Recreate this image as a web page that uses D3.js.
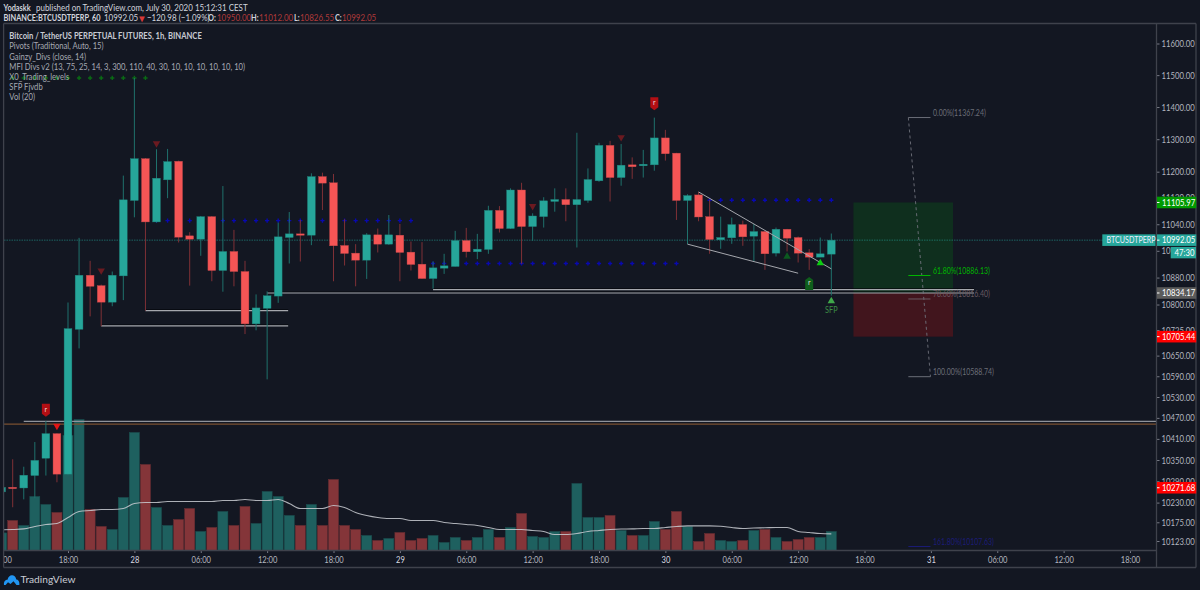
<!DOCTYPE html>
<html><head><meta charset="utf-8">
<style>html,body{margin:0;padding:0;background:#131722;overflow:hidden}svg{display:block}
text{font-family:Lato,"Noto Sans",sans-serif}</style>
<script src="https://cdn.jsdelivr.net/npm/d3@7/dist/d3.min.js"></script>
</head><body><svg id="c" width="1200" height="590"></svg>
<script>
// Hourly bars, index 0 = 27 Jul 12:00
const opens=[10260,10273,10271,10306,10355,10425,10310,10727,10887,10856,10807,10885,11112,11240,11047,11175,11232,11005,10995,11063,10901,10958,10898,10743,10789,10825,11000,11011,11007,11185,11166,10976,10953,10932,11008,10980,11007,10956,10920,10877,10908,10913,10991,10957,10964,11082,11027,11144,11033,11063,11109,11115,11099,11112,11172,11281,11182,11221,11218,11221,11304,11257,11112,11129,11063,10993,10999,11039,11004,11018,10953,11025,11000,10954,10941,10950];
const highs=[10280,10352,10331,10401,10461,10426,10806,10999,10930,10859,10898,11188,11491,11242,11269,11270,11234,11016,11065,11065,11156,11023,10930,10830,10839,11045,11077,11053,11195,11197,11193,11055,10980,11013,11027,11068,11041,10988,10986,10928,10951,11020,11029,11011,11096,11095,11149,11166,11073,11122,11149,11149,11320,11210,11289,11295,11285,11244,11267,11367,11329,11258,11131,11138,11114,11063,11060,11051,11041,11019,11030,11026,11003,10965,11000,11012];
const lows=[10252,10217,10239,10242,10306,10287,10307,10671,10765,10736,10795,10813,11061,10782,11045,11119,10985,10856,10945,10869,10838,10854,10713,10724,10581,10805,10922,10928,10977,11083,10869,10916,10854,10876,10955,10978,10869,10901,10876,10847,10891,10913,10940,10935,10951,11015,11026,10921,10990,11030,11078,11049,10970,11105,11169,11109,11157,11178,11182,11203,11234,11053,10980,11049,10951,10966,10981,10975,10928,10903,10943,10958,10925,10903,10941,10826.55];
const closes=[10273,10269,10307,10349,10425,10310,10729,10887,10854,10807,10887,11114,11240,11047,11180,11231,11001,10995,11063,10901,10958,10898,10743,10790,10826,11002,11011,11007,11185,11165,10975,10952,10932,11008,10980,11008,10955,10919,10877,10909,10915,10991,10957,10965,11082,11027,11144,11033,11065,11111,11115,11099,11115,11176,11281,11182,11220,11215,11223,11304,11255,11112,11127,11062,10994,11000,11039,11002,11018,10951,11025,10998,10953,10941,10951,10992.05];
const volumes=[17.6,30,25,54,46,38,115,131,41,24,21,53,118,86,43,25,31,42,19,23,39,25,44,27,59,54,35,25,46,25,71,25,21,15,10,12,18,10,12,15,8,13,10,13,21,13,23,37,14,13,19,19,67,33,33,35,20,15,15,29,21,39,24,9,17,10,9,10,20,21,13,9,11,13,13,19];
const volumeMA=[20.8,21,21.6,24,26,27,33,39,40,41,41,42,47,48,48,49,49,49,49,49,50,50,51,50,50,51,47,42,42,42,45,43,38,35,33,32,32,30,30,30,28,27,26,25,23,21,21,21,20,19,16,16,17,19,20,21,21.5,21.6,22,22,23,24,24.6,24.6,24.6,24.3,23,22,22.5,22.7,23,23,19,18,17,16.6];
const priceTicks=[11600,11500,11400,11300,11200,11120,11040,10960,10880,10800,10725,10650,10590,10530,10470,10410,10350,10290,10230,10175,10123];
const timeTickIdx=[0,6,12,18,24,30,36,42,48,54,60,66,72,78,84,90,96,102];
const timeTickLabels=["12:00","18:00","28","06:00","12:00","18:00","29","06:00","12:00","18:00","30","06:00","12:00","18:00","31","06:00","12:00","18:00"];
const legendLines=["Bitcoin / TetherUS PERPETUAL FUTURES, 1h, BINANCE","Pivots (Traditional, Auto, 15)","Gainzy_Divs (close, 14)","MFI Divs v2 (13, 75, 25, 14, 3, 300, 110, 40, 30, 10, 10, 10, 10, 10, 10)","X0_Trading_levels","SFP Fjvdb","Vol (20)"];
// Pivot-style + marks: [first bar, last bar, price]
const pivotRuns=[[14,37,11051],[39,61,10922],[64,75,11113]];
const greenPlusBars=[1,2,3,4,5,6,7,8,9,10,11,12,13], greenPlusPrice=11491;
// Horizontal levels: [from bar, to bar, price]
const levels=[[13,25.9,10782],[9,25.9,10737],[24,87.9,10834.17],[39,87.9,10844]];
const farLevels=[[2,110,10460,"#8f939b"],[0,110,10452,"#7a5130"]];
const wedge=[[[63,11138],[75,10906]],[[62,10980],[72,10893]]];
const boxBars=[77,86], boxTop=11105.97, boxMid=10834.17, boxBottom=10705.44;
const fibs=[["0.00%(11367.24)",11367.24,"#6b6e78"],["61.80%(10886.13)",10886.13,"#00b400"],["78.60%(10816.40)",10816.40,"#6a5a62"],["100.00%(10588.74)",10588.74,"#6b6e78"],["161.80%(10107.63)",10107.63,"#1c1c78"]];
const fibBars=[82,84];
const downMarks=[[9,10901,"#6b1a20"],[14,11287,"#6b1a20"],[56,11306,"#6b1a20"],[48,11095,"#6b1a20"],[5,10447,"#e01515"]];
const upMarks=[[71,10943,"#0c5a20"],[74,10923,"#0ccc10"],[75,10810,"#3fa84a"]];
const flags=[[4,10492,"#b30f14",1],[59,11410,"#b30f14",1],[73,10862,"#0f5f1c",-1]];
const badges=[[11105.97,"11105.97","#009a00"],[10992.05,"10992.05","#26a69a"],[10834.17,"10834.17","#5b5b5b"],[10705.44,"10705.44","#ff0000"],[10271.68,"10271.68","#ff0000"]];

const svg=d3.select("#c");
const frame="#3f424c", axisText="#b2b5be";
const L=4,R=1156.5,T=24,B=550.5;
const x=d3.scaleLinear().domain([6,102]).range([68,1130]);
const y=d3.scaleLog().domain([10123,11600]).range([541,43.5]);
const v=d3.scaleLinear().domain([0,131]).range([B,B-131]);
const defs=svg.append("defs");
defs.append("clipPath").attr("id","plot").append("rect").attr("x",L).attr("y",T).attr("width",R-L).attr("height",B-T);
defs.append("clipPath").attr("id","taxis").append("rect").attr("x",L).attr("y",B).attr("width",1192).attr("height",17);

const idx=d3.range(opens.length);
const up=i=>closes[i]>=opens[i];
const teal="#26a69a",red="#f55555",tealW="#1f716c",redW="#7f3036";
const g=svg.append("g").attr("clip-path","url(#plot)");

// boxes
g.append("rect").attr("x",x(boxBars[0])).attr("width",x(boxBars[1])-x(boxBars[0])).attr("y",y(boxTop)).attr("height",y(boxMid)-y(boxTop)).attr("fill","#0f2f1e");
g.append("rect").attr("x",x(boxBars[0])).attr("width",x(boxBars[1])-x(boxBars[0])).attr("y",y(boxMid)).attr("height",y(boxBottom)-y(boxMid)).attr("fill","#41151d");

// volume
const bw=10;
g.append("g").selectAll("rect").data(idx).join("rect")
 .attr("x",i=>x(i)-bw/2).attr("width",bw).attr("y",i=>v(volumes[i])).attr("height",i=>B-v(volumes[i]))
 .attr("fill",i=>up(i)?"#1e605f":"#843539").attr("stroke",i=>up(i)?"#1a5050":"#6c2f33").attr("stroke-width",0.5);
g.append("path").datum(idx).attr("fill","none").attr("stroke","#c9cbd1").attr("stroke-width",1.1).attr("opacity",.85)
 .attr("d",d3.line().curve(d3.curveMonotoneX).x(i=>x(i)).y(i=>v(volumeMA[i])));

// last price line
g.append("line").attr("x1",L).attr("x2",1104).attr("y1",y(10992.05)).attr("y2",y(10992.05)).attr("stroke","#26a69a").attr("stroke-opacity",.6).attr("stroke-width",.9).attr("stroke-dasharray","1.5 1");

// levels
function level(gg,x1,x2,yy,col,w){
 gg.append("line").attr("x1",x1).attr("x2",x2).attr("y1",yy-1).attr("y2",yy-1).attr("stroke","#05070b").attr("stroke-width",.8);
 gg.append("line").attr("x1",x1).attr("x2",x2).attr("y1",yy).attr("y2",yy).attr("stroke",col).attr("stroke-width",w);
}
levels.forEach(d=>level(g,x(d[0]),x(d[1]),y(d[2]),"#a5a7ad",1.2));
farLevels.forEach(d=>{g.append("line").attr("x1",x(d[0])).attr("x2",x(d[1])).attr("y1",y(d[2])).attr("y2",y(d[2])).attr("stroke",d[3]).attr("stroke-width",1.4)});

// plus marks
const plus=d3.symbol().type(d3.symbolCross).size(10);
pivotRuns.forEach(r=>{
 g.append("g").selectAll("path").data(d3.range(r[0],r[1]+1)).join("path").attr("d",plus)
  .attr("transform",i=>`translate(${x(i)},${y(r[2])})`).attr("fill","#0808b0");
});
g.append("g").selectAll("path").data(greenPlusBars).join("path").attr("d",plus)
 .attr("transform",i=>`translate(${x(i)},${y(greenPlusPrice)})`).attr("fill","#0a6a14");

// candles
g.append("g").selectAll("line").data(idx).join("line")
 .attr("x1",i=>x(i)).attr("x2",i=>x(i)).attr("y1",i=>y(highs[i])).attr("y2",i=>y(lows[i]))
 .attr("stroke",i=>up(i)?tealW:redW).attr("stroke-width",1);
g.append("g").selectAll("rect").data(idx).join("rect")
 .attr("x",i=>x(i)-3.9).attr("width",7.8)
 .attr("y",i=>y(Math.max(opens[i],closes[i])))
 .attr("height",i=>Math.max(1.4,Math.abs(y(opens[i])-y(closes[i]))))
 .attr("fill",i=>up(i)?teal:red).attr("stroke",i=>up(i)?"#1f7f78":"#b9464a").attr("stroke-width",.4);

// wedge
wedge.forEach(s=>g.append("line").attr("x1",x(s[0][0])).attr("y1",y(s[0][1])).attr("x2",x(s[1][0])).attr("y2",y(s[1][1])).attr("stroke","#a5a7ad").attr("stroke-width",1));

// triangles
const tri=d3.symbol().type(d3.symbolTriangle).size(24);
g.append("g").selectAll("path").data(downMarks).join("path").attr("d",tri)
 .attr("transform",d=>`translate(${x(d[0])},${y(d[1])}) rotate(180)`).attr("fill",d=>d[2]);
g.append("g").selectAll("path").data(upMarks).join("path").attr("d",tri)
 .attr("transform",d=>`translate(${x(d[0])},${y(d[1])})`).attr("fill",d=>d[2]);
g.append("text").attr("x",x(75)).attr("y",y(10810)+12).attr("text-anchor","middle").attr("font-size",9).attr("fill","#3c8f45").text("SFP");

// flags
const fg=g.append("g").selectAll("g").data(flags).join("g").attr("transform",d=>`translate(${x(d[0])},${y(d[1])})`);
fg.append("path").attr("d","M-4,-6.5H4V3.5L0,6.5L-4,3.5Z").attr("transform",d=>`scale(1,${d[3]})`).attr("fill",d=>d[2]);
fg.append("text").attr("class","nofit").attr("text-anchor","middle").attr("y",1.5).attr("font-size",7).attr("fill","#e8d8d8").text("r");

// fib
const fibX1=x(fibBars[0])-0.4, fibX2=x(fibBars[1])-0.4;
g.append("line").attr("x1",fibX1).attr("y1",y(fibs[0][1])).attr("x2",fibX2).attr("y2",y(fibs[3][1])).attr("stroke","#6f727c").attr("stroke-dasharray","3 3").attr("stroke-width",.9);
fibs.forEach(f=>{
 g.append("line").attr("x1",fibX1).attr("x2",fibX2).attr("y1",y(f[1])).attr("y2",y(f[1])).attr("stroke",f[2]).attr("stroke-width",1);
 g.append("text").attr("class","fib").attr("x",fibX2+2.5).attr("y",y(f[1])-1.5).attr("font-size",9.4).attr("fill",f[2]).text(f[0]);
});

// legend
g.append("g").selectAll("text").data(legendLines).join("text")
 .attr("x",9.3).attr("y",(d,i)=>39.3+i*10.2).attr("font-size",9.4)
 .attr("fill",(d,i)=>i?"#a6a9b2":"#c8cbd3").attr("font-weight",(d,i)=>i?400:700).text(d=>d);

// axes
const px=svg.append("g").attr("transform",`translate(${R},0)`).call(d3.axisRight(y).tickValues(priceTicks).tickFormat(d3.format(".2f")).tickSize(3).tickPadding(2));
px.select(".domain").remove();
px.selectAll("line").attr("stroke","#787b86");
px.selectAll("text").attr("fill",axisText).attr("font-size",9.5);
const tx=svg.append("g").attr("clip-path","url(#taxis)").append("g").attr("transform",`translate(0,${B})`).call(d3.axisBottom(x).tickValues(timeTickIdx).tickFormat((d,i)=>timeTickLabels[i]).tickSize(2.5).tickPadding(3));
tx.select(".domain").remove();
tx.selectAll("line").attr("stroke","#787b86");
tx.selectAll("text").attr("fill",(d,i)=>timeTickLabels[i].length==2?"#d8dae0":axisText).attr("font-size",9.3);

// frame
const lineF=(x1,y1,x2,y2,w)=>svg.append("line").attr("x1",x1).attr("y1",y1).attr("x2",x2).attr("y2",y2).attr("stroke",frame).attr("stroke-width",w||1.3);
lineF(3.6,T-.5,1196,T-.5); lineF(3.6,567.5,1196,567.5); lineF(3.6,T-.5,3.6,567.5); lineF(1196,T-.5,1196,567.5); lineF(R,T-.5,R,567.5); lineF(3.6,B,R,B);

// badges
const bgs=svg.append("g").selectAll("g").data(badges).join("g").attr("transform",d=>`translate(${R+.5},${y(d[0])})`);
bgs.append("rect").attr("x",0).attr("y",-5.8).attr("width",39.3).attr("height",11.6).attr("fill",d=>d[2]);
bgs.append("line").attr("x1",0).attr("x2",2.5).attr("stroke","#fff");
bgs.append("text").attr("x",5).attr("y",3.3).attr("font-size",9.5).attr("fill","#fff").text(d=>d[1]);
const ly=y(10992.05);
svg.append("rect").attr("x",1102.3).attr("width",53.2).attr("y",ly-5.8).attr("height",11.6).attr("fill","#26a69a");
svg.append("text").attr("x",1106.5).attr("y",ly+3.3).attr("font-size",8.8).attr("fill","#eef").text("BTCUSDTPERP");
svg.append("rect").attr("x",1170.7).attr("width",25.3).attr("y",ly+6.8).attr("height",11.4).attr("fill","#26a69a");
svg.append("text").attr("x",1174.5).attr("y",ly+15.8).attr("font-size",9.5).attr("fill","#fff").text("47:30");

// header
const h=svg.append("g").attr("font-size",9.8);
const head=(xx,yy,t,col,bold)=>h.append("text").attr("class",bold?"hb":"").attr("x",xx).attr("y",yy).attr("fill",col).attr("font-weight",bold?700:400).text(t);
const hc="#d1d4dc",hr="#b03a3a";
head(3.5,11,"Yodaskk",hc,true);
head(36,11,"published on TradingView.com, July 30, 2020 15:12:31 CEST",hc);
head(3.5,21.5,"BINANCE:BTCUSDTPERP, 60",hc,true);
head(104,21.5,"10992.05",hc);
head(137,21.5,"▼","#d83a3a");
head(147,21.5,"−120.98 (−1.09%)",hc);
head(208,21.5,"O:",hc,true); head(217,21.5,"10950.00",hr);
head(251,21.5,"H:",hc,true); head(259,21.5,"11012.00",hr);
head(294,21.5,"L:",hc,true); head(300,21.5,"10826.55",hr);
head(335,21.5,"C:",hc,true); head(342,21.5,"10992.05",hr);

// logo
const lg=svg.append("g").attr("transform","translate(4,574.5)");
lg.append("path").attr("d","M0,10.5 C-0.5,7 1.5,5.2 3.5,5.2 C4.2,2 6.5,0.3 8.5,0.8 C10.8,1.2 12,3 12.2,5 C14.5,5 15.8,7.5 15.3,10.5 L12.5,10.5 L9.5,6.8 L6.5,9.6 L4,7.8 L1.6,10.5 Z").attr("fill","#2196f3");
svg.append("text").attr("class","nofit").attr("x",20.5).attr("y",582.5).attr("font-size",10.2).attr("fill","#c9ccd4").text("TradingView");

// The reference's typeface is narrower than any installed one: condense each text horizontally
svg.selectAll("text").each(function(){
 const s=d3.select(this);
 if(s.classed("nofit")||s.text()=="▼")return;
 const f=s.classed("fib")?0.74:s.classed("hb")?0.75:0.815;
 const ax=+s.attr("x")||0;
 s.attr("transform",`translate(${ax},0) scale(${f},1) translate(${-ax},0)`);
});
</script></body></html>
